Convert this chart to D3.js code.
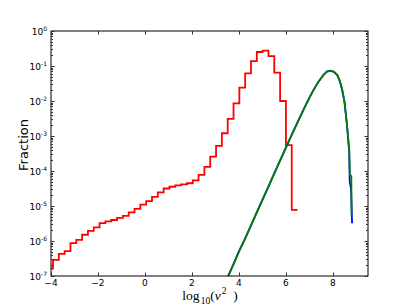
<!DOCTYPE html>
<html>
<head>
<meta charset="utf-8">
<script src="https://cdn.jsdelivr.net/npm/d3@7"></script>
<style>
  body { margin: 0; background: #fff; }
  svg { display: block; }
</style>
</head>
<body>
<div id="chart"></div>
<script>
// red histogram: bin edges (log10 v^2) and fraction per bin
const redEdges = [-4.163, -3.915, -3.667, -3.419, -3.171, -2.923, -2.675, -2.427, -2.179, -1.931,
  -1.683, -1.435, -1.187, -0.939, -0.691, -0.443, -0.195, 0.053, 0.301, 0.549,
  0.797, 1.045, 1.293, 1.541, 1.789, 2.037, 2.285, 2.533, 2.781, 3.029,
  3.277, 3.525, 3.773, 4.021, 4.269, 4.517, 4.765, 5.013, 5.261, 5.509,
  5.757, 6.005, 6.253, 6.501];
const redFraction = [1.62e-7, 2.88e-7, 4.27e-7, 5.13e-7, 8.7e-7, 1.07e-6, 1.51e-6, 1.95e-6, 2.45e-6, 3.24e-6,
  3.63e-6, 3.98e-6, 4.57e-6, 5.25e-6, 6.61e-6, 8.32e-6, 1.10e-5, 1.38e-5, 1.82e-5, 2.45e-5,
  3.16e-5, 3.55e-5, 3.89e-5, 4.17e-5, 4.47e-5, 5.37e-5, 7.76e-5, 1.32e-4, 2.57e-4, 5.25e-4,
  1.20e-3, 3.09e-3, 8.51e-3, 2.40e-2, 6.17e-2, 0.138, 0.251, 0.275, 0.191, 0.0646,
  0.0100, 5.5e-4, 7.76e-6];

// green and blue curves
const greenX = [3.5, 3.8, 4.0, 4.25, 4.5, 4.75, 5.0, 5.25, 5.5, 5.75, 6.0, 6.25, 6.5, 6.75, 7.0,
  7.2, 7.4, 7.6, 7.75, 7.9, 8.05, 8.2, 8.3, 8.4, 8.5, 8.6, 8.7, 8.73, 8.79, 8.80, 8.83];
const greenFraction = [8.3e-8, 2.4e-7, 5.0e-7, 1.12e-6, 2.63e-6, 6.3e-6, 1.48e-5, 3.47e-5, 8.3e-5, 1.95e-4,
  4.57e-4, 1.07e-3, 2.45e-3, 5.6e-3, 1.23e-2, 2.19e-2, 3.63e-2, 5.5e-2, 6.9e-2, 7.4e-2,
  6.8e-2, 5.4e-2, 3.7e-2, 2.1e-2, 9.3e-3, 2.24e-3, 4.0e-4, 7.9e-5, 7.1e-5, 5.8e-6, 5.8e-6];
const blueX = [3.48, 3.8, 4.0, 4.25, 4.5, 4.75, 5.0, 5.25, 5.5, 5.75, 6.0, 6.25, 6.5, 6.75, 7.0,
  7.2, 7.4, 7.6, 7.75, 7.9, 8.05, 8.2, 8.3, 8.4, 8.5, 8.6, 8.7, 8.72, 8.78, 8.82, 8.86];
const blueFraction = [8.0e-8, 2.4e-7, 5.0e-7, 1.12e-6, 2.63e-6, 6.3e-6, 1.48e-5, 3.47e-5, 8.3e-5, 1.95e-4,
  4.57e-4, 1.07e-3, 2.45e-3, 5.6e-3, 1.23e-2, 2.19e-2, 3.63e-2, 5.5e-2, 6.9e-2, 7.4e-2,
  6.8e-2, 5.4e-2, 3.7e-2, 2.1e-2, 9.3e-3, 2.24e-3, 3.6e-4, 5.0e-5, 3.0e-5, 3.4e-6, 3.4e-6];

const xTicks = [-4, -2, 0, 2, 4, 6, 8];
const yTickExps = [0, -1, -2, -3, -4, -5, -6, -7];

const W = 409, H = 307;
const plot = {left: 51, right: 368, top: 31, bottom: 276};

const svg = d3.select('#chart').append('svg')
    .attr('width', W)
    .attr('height', H);

const x = d3.scaleLinear().domain([-4, 9.5]).range([plot.left, plot.right]);
const y = d3.scaleLog().domain([1e-7, 1]).range([plot.bottom, plot.top]);

svg.append('clipPath').attr('id', 'clip')
  .append('rect')
    .attr('x', plot.left).attr('y', plot.top)
    .attr('width', plot.right - plot.left)
    .attr('height', plot.bottom - plot.top);

const g = svg.append('g').attr('clip-path', 'url(#clip)');

// red step histogram
const redPts = redEdges.map((e, i) => [e, redFraction[Math.min(i, redFraction.length - 1)]]);
g.append('path')
    .datum(redPts)
    .attr('fill', 'none')
    .attr('stroke', '#ff0000')
    .attr('stroke-width', 1.8)
    .attr('d', d3.line().curve(d3.curveStepAfter)
        .x(d => x(d[0]))
        .y(d => y(d[1])));

const curve = d3.line().x(d => x(d[0])).y(d => y(d[1]));
g.append('path')
    .datum(blueX.map((v, i) => [v, blueFraction[i]]))
    .attr('fill', 'none')
    .attr('stroke', '#0000ff')
    .attr('stroke-width', 1.8)
    .attr('d', curve);
g.append('path')
    .datum(greenX.map((v, i) => [v, greenFraction[i]]))
    .attr('fill', 'none')
    .attr('stroke', '#008000')
    .attr('stroke-width', 1.8)
    .attr('d', curve);

// frame
svg.append('rect')
    .attr('x', plot.left).attr('y', plot.top)
    .attr('width', plot.right - plot.left)
    .attr('height', plot.bottom - plot.top)
    .attr('fill', 'none')
    .attr('stroke', '#000')
    .attr('stroke-width', 1);

// ticks (inside, all four sides)
const tickColor = '#333';
const ticks = svg.append('g').attr('stroke', tickColor).attr('stroke-width', 1);
xTicks.forEach(t => {
  const px = Math.round(x(t)) + 0.5;
  ticks.append('line').attr('x1', px).attr('x2', px).attr('y1', plot.bottom).attr('y2', plot.bottom - 3.5);
  ticks.append('line').attr('x1', px).attr('x2', px).attr('y1', plot.top).attr('y2', plot.top + 3.5);
});
yTickExps.forEach(e => {
  const py = Math.round(y(Math.pow(10, e))) + 0.5;
  ticks.append('line').attr('y1', py).attr('y2', py).attr('x1', plot.left).attr('x2', plot.left + 3.5);
  ticks.append('line').attr('y1', py).attr('y2', py).attr('x1', plot.right).attr('x2', plot.right - 3.5);
  if (e > -7) {
    for (let m = 2; m <= 9; m++) {
      const my = Math.round(y(m * Math.pow(10, e - 1))) + 0.5;
      ticks.append('line').attr('y1', my).attr('y2', my).attr('x1', plot.left).attr('x2', plot.left + 2);
      ticks.append('line').attr('y1', my).attr('y2', my).attr('x1', plot.right).attr('x2', plot.right - 2);
    }
  }
});

// tick labels
const font = 'DejaVu Sans, sans-serif';
xTicks.forEach(t => {
  svg.append('text')
      .attr('x', x(t))
      .attr('y', plot.bottom + 10)
      .attr('text-anchor', 'middle')
      .attr('font-family', font)
      .attr('font-size', 9)
      .attr('fill', '#000')
      .text(t < 0 ? '\u2212' + Math.abs(t) : String(t));
});
yTickExps.forEach(e => {
  const py = y(Math.pow(10, e));
  const t = svg.append('text')
      .attr('x', plot.left - 4)
      .attr('y', py + 3.5)
      .attr('text-anchor', 'end')
      .attr('font-family', font)
      .attr('font-size', 9)
      .attr('fill', '#000');
  t.append('tspan').text('10');
  t.append('tspan')
      .attr('font-size', 6)
      .attr('dy', -4)
      .text(e < 0 ? '-' + Math.abs(e) : String(e));
});

// axis labels
svg.append('text')
    .attr('transform', 'translate(28,145) rotate(-90)')
    .attr('text-anchor', 'middle')
    .attr('font-family', font)
    .attr('font-size', 13)
    .attr('fill', '#000')
    .text('Fraction');

const xl = svg.append('text')
    .attr('x', 210)
    .attr('y', 300)
    .attr('text-anchor', 'middle')
    .attr('font-family', 'Liberation Serif, DejaVu Serif, serif')
    .attr('font-size', 13.5)
    .attr('fill', '#000');
xl.append('tspan').text('log');
xl.append('tspan').attr('font-size', 9.5).attr('dx', 1).attr('dy', 4).text('10');
xl.append('tspan').attr('dy', -4).text('(');
xl.append('tspan').attr('font-style', 'italic').text('v');
xl.append('tspan').attr('font-size', 9.5).attr('dx', 1).attr('dy', -6).text('2');
xl.append('tspan').attr('dy', 6).text('\u2002)');
</script>
</body>
</html>
